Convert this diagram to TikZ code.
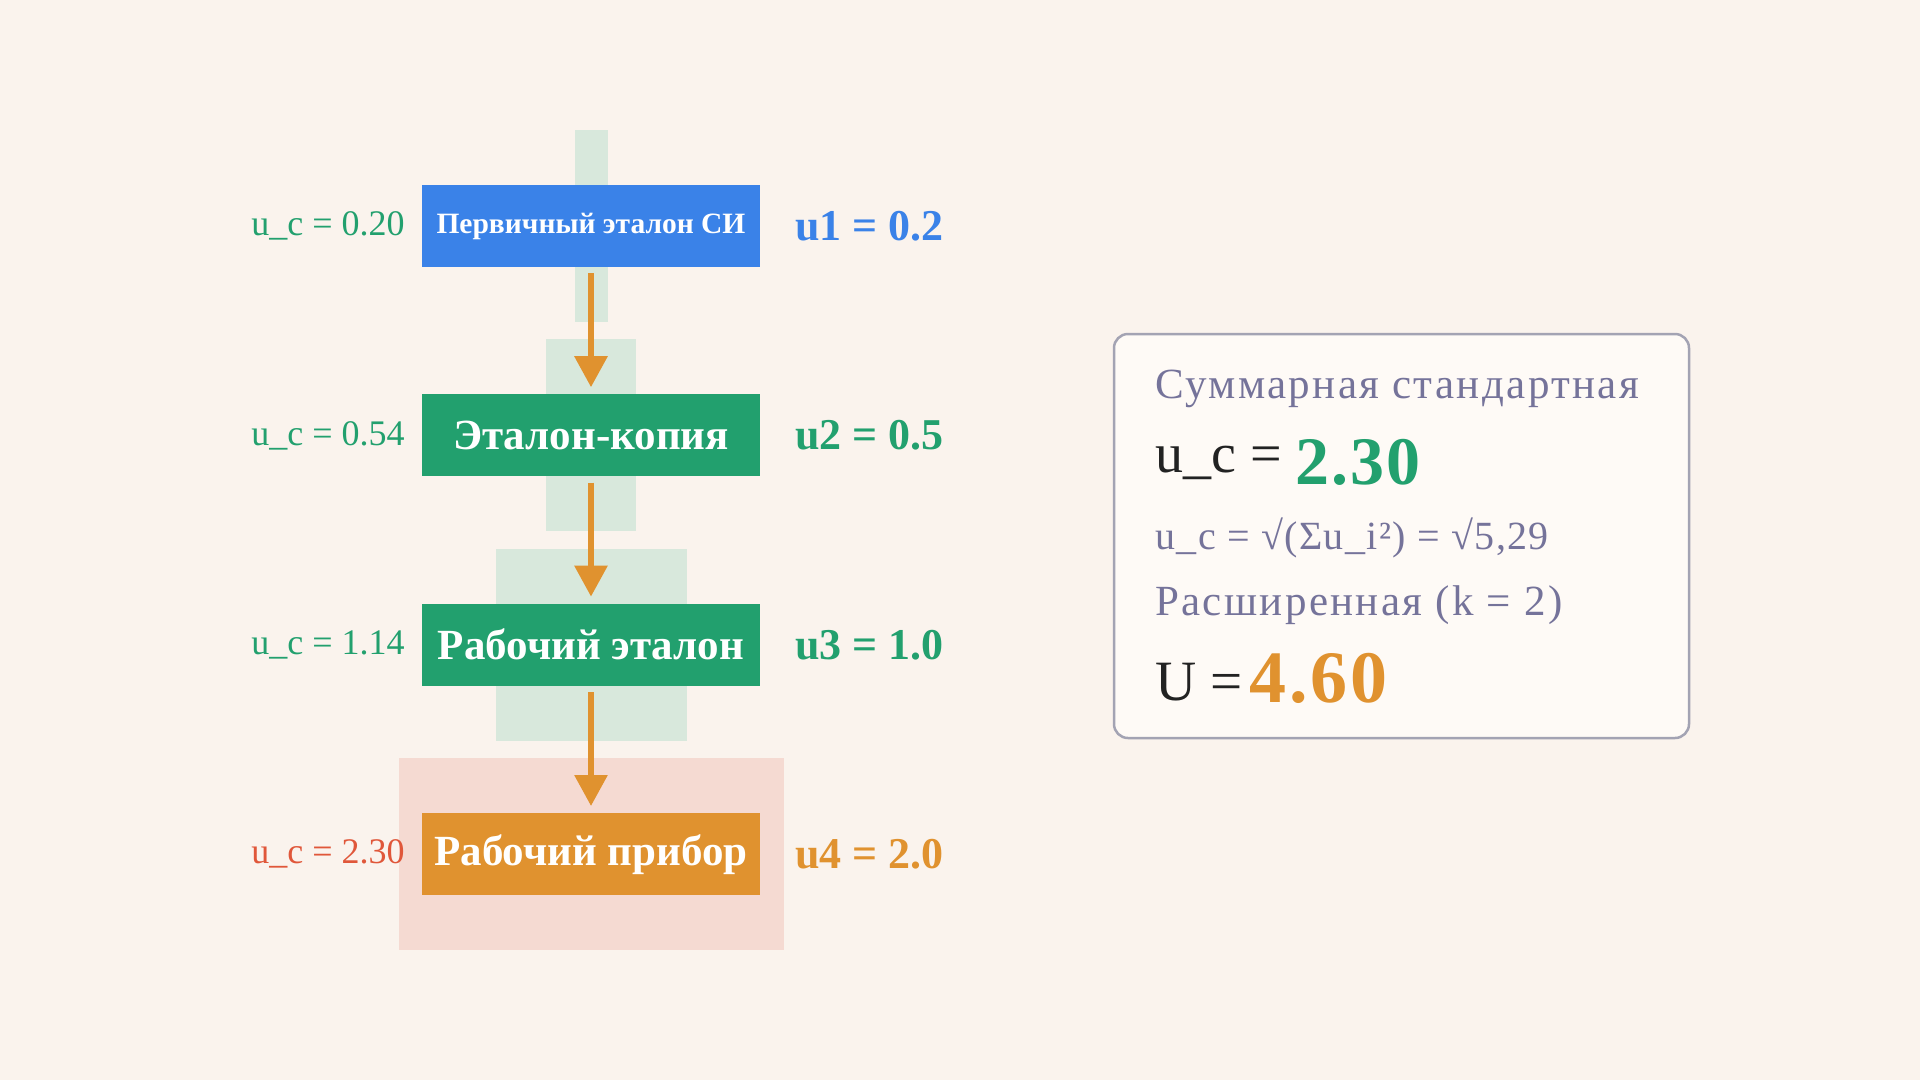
\documentclass[tikz,border=0pt]{standalone}
\usepackage{fontspec}
\setmainfont{Liberation Serif}
\usetikzlibrary{positioning,arrows.meta}

\definecolor{pagebg}{HTML}{FAF3ED}
\definecolor{bandgreen}{HTML}{D8E8DC}
\definecolor{bandpink}{HTML}{F5DAD2}
\definecolor{siblue}{HTML}{3A82E8}
\definecolor{lvlgreen}{HTML}{22A06E}
\definecolor{lvlorange}{HTML}{E0922F}
\definecolor{lvlred}{HTML}{E0573A}
\definecolor{notegray}{HTML}{75739A}
\definecolor{notedark}{HTML}{222222}
\definecolor{panelfill}{HTML}{FEFAF6}
\definecolor{panelline}{HTML}{A3A3B3}

\begin{document}
\begin{tikzpicture}
    [x=1pt, y=-1pt,
    band/.style = {minimum height=192pt, inner sep=0pt},
    level/.style = {minimum width=338pt, minimum height=82pt, inner sep=0pt,
        text=white, font=\bfseries\fontsize{43}{50}\selectfont},
    uclabel/.style = {inner sep=0pt, font=\fontsize{36}{42}\selectfont},
    uilabel/.style = {inner sep=0pt, font=\bfseries\fontsize{44}{52}\selectfont},
    flow/.style = {draw=lvlorange, line width=6pt, shorten <=6pt, shorten >=7pt,
        -{Triangle[width=32pt, length=31pt]}},
    panel/.style = {draw=panelline, line width=2.5pt, fill=panelfill,
        rounded corners=14pt, minimum width=575pt, minimum height=404pt},
    note/.style = {anchor=base west, inner sep=0pt, text=notegray,
        font=\fontsize{43}{50}\selectfont\addfontfeatures{LetterSpace=5.5}}
    ]
    \useasboundingbox (0,0) rectangle (1920,1080);
    \fill[pagebg] (0,0) rectangle (1920,1080);

    % uncertainty bands
    \node (w1) [band, fill=bandgreen, minimum width=33pt] at (591,226) {};
    \node (w2) [band, fill=bandgreen, minimum width=90pt, below=17pt of w1] {};
    \node (w3) [band, fill=bandgreen, minimum width=191pt, below=17pt of w2] {};
    \node (w4) [band, fill=bandpink, minimum width=385pt, below=17pt of w3] {};

    % chain of standards
    \node (lvl1) [level, fill=siblue, font=\bfseries\fontsize{29.5}{35}\selectfont] at (w1) {Первичный эталон СИ};
    \node (lvl2) [level, fill=lvlgreen] at (w2) {Эталон-копия};
    \node (lvl3) [level, fill=lvlgreen] at (w3) {Рабочий эталон};
    \node (lvl4) [level, fill=lvlorange] at (w4) {Рабочий прибор};

    \draw[flow] (lvl1) -- (lvl2);
    \draw[flow] (lvl2) -- (lvl3);
    \draw[flow] (lvl3) -- (lvl4);

    \node (uc1) [uclabel, text=lvlgreen, left=17pt of lvl1] {u\_c = 0.20};
    \node (uc2) [uclabel, text=lvlgreen, left=17pt of lvl2] {u\_c = 0.54};
    \node (uc3) [uclabel, text=lvlgreen, left=17pt of lvl3] {u\_c = 1.14};
    \node (uc4) [uclabel, text=lvlred, left=17pt of lvl4] {u\_c = 2.30};

    \node (ui1) [uilabel, text=siblue, right=35pt of lvl1] {u1 = 0.2};
    \node (ui2) [uilabel, text=lvlgreen, right=35pt of lvl2] {u2 = 0.5};
    \node (ui3) [uilabel, text=lvlgreen, right=35pt of lvl3] {u3 = 1.0};
    \node (ui4) [uilabel, text=lvlorange, right=35pt of lvl4] {u4 = 2.0};

    % summary panel
    \node (sum) [panel] at (1401.5,536) {};
    \node (sumtitle) [note] at (1155,398) {Суммарная стандартная};
    \node (ucname) [note, text=notedark, font=\fontsize{56}{64}\selectfont] at (1155,472) {u\_c =};
    \node (ucvalue) [note, text=lvlgreen, font=\bfseries\fontsize{68}{76}\selectfont\addfontfeatures{LetterSpace=3}] at (1295,484) {2.30};
    \node (ucformula) [note, font=\fontsize{40}{48}\selectfont\addfontfeatures{LetterSpace=3.5}] at (1155,549) {u\_c = √(Σu\_i²) = √5,29};
    \node (exptitle) [note] at (1155,615) {Расширенная (k = 2)};
    \node (uname) [note, text=notedark, font=\fontsize{57}{66}\selectfont] at (1155,700) {U =};
    \node (uvalue) [note, text=lvlorange, font=\bfseries\fontsize{74}{82}\selectfont\addfontfeatures{LetterSpace=4}] at (1249,702) {4.60};
\end{tikzpicture}
\end{document}
